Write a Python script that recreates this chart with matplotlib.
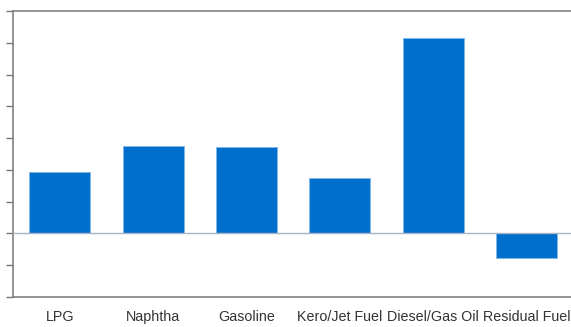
import matplotlib
matplotlib.use("Agg")
import matplotlib.pyplot as plt

categories = ["LPG", "Naphtha", "Gasoline", "Kero/Jet Fuel", "Diesel/Gas Oil", "Residual Fuel"]
values = [1.92, 2.75, 2.73, 1.73, 6.15, -0.76]
yticks = list(range(-2, 8))

fig = plt.figure(figsize=(5.71, 3.27), dpi=100)
ax = fig.add_axes([13/571, 1-297/327, 560.4/571, 286/327])

x = list(range(len(categories)))
ax.bar(x, values, width=0.655, color="#006FCC", edgecolor="#7fb8ea", linewidth=0.6, zorder=2)
ax.axhline(0, color="#a7b5c6", lw=1.0, zorder=3)

ax.set_xlim(-0.5, 5.5)
ax.set_ylim(-2, 7)
ax.set_yticks(yticks)
ax.set_yticklabels([])
ax.set_xticks(x)
ax.set_xticklabels(categories, fontsize=10.3, family="Liberation Sans", color="#333333")
ax.tick_params(axis="x", length=0, pad=9.5)
ax.tick_params(axis="y", length=5, width=1, color="#777777", direction="out")

for s in ["left", "top", "bottom"]:
    ax.spines[s].set_color("#808080")
    ax.spines[s].set_linewidth(1.2)
ax.spines["right"].set_visible(False)

fig.savefig("out.png", dpi=100)
